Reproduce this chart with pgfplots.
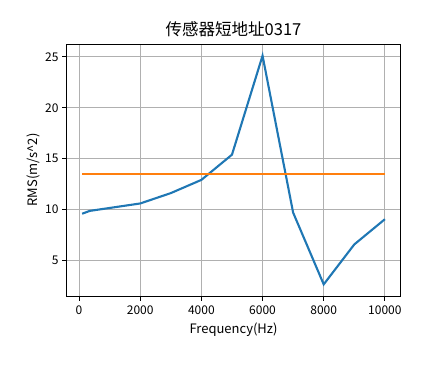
\documentclass[border=0pt]{standalone}
\usepackage{fontspec}
\setmainfont{Noto Sans CJK SC}
\usepackage{pgfplots}
\pgfplotsset{compat=1.18}
\definecolor{mplblue}{HTML}{1F77B4}
\definecolor{mplorange}{HTML}{FF7F0E}
\definecolor{mplgrid}{HTML}{B0B0B0}
\begin{document}
\begin{tikzpicture}
\begin{axis}[
  name=ax, at={(0,0)}, anchor=south west,
  scale only axis, width=333pt, height=252pt,
  xmin=-395, xmax=10495, ymin=1.475, ymax=26.27,
  xtick={0,2000,4000,6000,8000,10000},
  ytick={5,10,15,20,25},
  scaled x ticks=false,
  x tick label style={/pgf/number format/1000 sep={}},
  /pgf/number format/assume math mode=true,
  tick label style={font=\fontsize{12}{14}\selectfont, text=black},
  xticklabel style={yshift=-1pt},
  grid=major,
  grid style={color=mplgrid, line width=1.1pt},
  axis line style={line width=1pt, black},
  tick style={line width=1pt, black},
  tick align=outside, tickpos=left,
  major tick length=4.9pt,
  title={传感器短地址0317},
  title style={font=\fontsize{16.5}{18}\selectfont, yshift=-2pt},
  xlabel={Frequency(Hz)},
  ylabel={RMS(m/s\textasciicircum 2)},
  label style={font=\fontsize{13}{15}\selectfont},
  xlabel style={yshift=-2pt},
  ylabel style={yshift=-2pt},
]
\addplot[color=mplblue, line width=2.1pt] coordinates {
  (100,9.57) (350,9.85) (2000,10.58) (3000,11.6) (4000,12.9)
  (5000,15.38) (6000,25.12) (7000,9.68) (8000,2.62) (9000,6.55) (10000,9.03)
};
\addplot[color=mplorange, line width=2.1pt] coordinates {
  (100,13.5) (10000,13.5)
};
\end{axis}
\pgfresetboundingbox
\path[use as bounding box] (-67pt,-74pt) rectangle (377pt,296pt);
\end{tikzpicture}
\end{document}
